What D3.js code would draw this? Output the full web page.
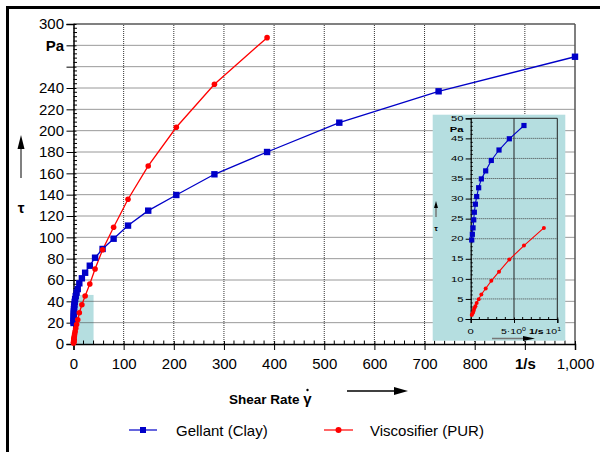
<!DOCTYPE html>
<html><head><meta charset="utf-8">
<script src="https://cdn.jsdelivr.net/npm/d3@7"></script>
<style>body{margin:0;background:#fff;} svg{display:block;font-family:"Liberation Sans",Arial,sans-serif;}</style>
</head><body>
<svg id="c" width="600" height="452"></svg>
<script>
// ---- data ----
const shear = [1000, 728, 530, 386, 281, 205, 149, 108.7, 80, 58, 43, 32.5, 23.2, 16.7, 11.6,
  8.45, 6.15, 4.46, 3.27, 2.38, 1.73, 1.23, 0.92, 0.69, 0.54, 0.42, 0.35, 0.27, 0.19, 0.12];
const gellant = [269.3, 236.9, 207.5, 180, 159.1, 139.7, 125, 111, 98.7, 89.1, 80.9, 73.4, 66.8, 61.6, 56.9,
  51.5, 48.2, 44.9, 42.1, 39.5, 36.9, 34.9, 32.7, 30.5, 28.6, 26.6, 24.7, 22.7, 21.1, 19.7];
const viscShear = shear.slice(3);
const viscosifier = [287.2, 243.5, 203.2, 166.9, 135.7, 109.4, 88.4, 70.3, 56.2, 45, 36.8, 29.3,
  22.7, 18.3, 14.8, 11.8, 9.5, 7.6, 6.1, 4.9, 4.0, 3.2, 2.7, 2.1, 1.6, 1.3, 1.0];
const seriesNames = ["Gellant (Clay)", "Viscosifier (PUR)"];
const xTicks = [0,100,200,300,400,500,600,700,800,900,1000];
const yTicks = [0,20,40,60,80,100,120,140,160,180,200,220,240,260,280,300];
const insetXTicks = [0,5,10];
const insetYTicks = [0,5,10,15,20,25,30,35,40,45,50];
const zoomBox = [40, 46]; // shaded zoom region in main chart (x, y extent)

const BLUE = "#0000c8", RED = "#ff0000", TEAL = "#b5dee0";
const svg = d3.select("#c");

// outer frame
svg.append("rect").attr("x",7.5).attr("y",7.5).attr("width",800).attr("height",800)
  .attr("fill","none").attr("stroke","#000").attr("stroke-width",3);

const x = d3.scaleLinear([0,1000],[73.5,575]);
const y = d3.scaleLinear([0,300],[344,24]);

// shaded zoom region
svg.append("rect").attr("x",x(0)).attr("y",y(zoomBox[1])).attr("width",x(zoomBox[0])-x(0))
  .attr("height",y(0)-y(zoomBox[1])).attr("fill",TEAL);

// grid
const grid = svg.append("g");
grid.selectAll(".gx").data(xTicks.filter(d=>d>0&&d<1000)).join("line")
  .attr("x1",d=>x(d)).attr("x2",d=>x(d)).attr("y1",y(0)).attr("y2",y(300))
  .attr("stroke","#333").attr("stroke-dasharray","1,1");
grid.selectAll(".gy").data(yTicks.filter(d=>d>0&&d<300)).join("line")
  .attr("x1",x(0)).attr("x2",x(1000)).attr("y1",d=>y(d)).attr("y2",d=>y(d))
  .attr("stroke","#333").attr("stroke-dasharray","1,1");
svg.append("line").attr("x1",x(0)).attr("x2",x(1000)).attr("y1",y(300)).attr("y2",y(300))
  .attr("stroke","#808080").attr("stroke-width",2);
svg.append("line").attr("x1",x(1000)).attr("x2",x(1000)).attr("y1",y(300)).attr("y2",y(0))
  .attr("stroke","#555").attr("stroke-width",1.5);

// minor ticks
svg.append("g").selectAll("line").data(d3.range(0,301,4).filter(d=>d%20)).join("line")
  .attr("x1",x(0)).attr("x2",x(0)+3.5).attr("y1",d=>y(d)).attr("y2",d=>y(d)).attr("stroke","#000");
svg.append("g").selectAll("line").data(d3.range(0,1001,20).filter(d=>d%100)).join("line")
  .attr("y1",y(0)).attr("y2",y(0)-3.5).attr("x1",d=>x(d)).attr("x2",d=>x(d)).attr("stroke","#000");

// axes
const yAxis = svg.append("g").attr("transform",`translate(${x(0)},0)`)
  .call(d3.axisLeft(y).tickValues(yTicks).tickSize(7).tickPadding(2.5)
    .tickFormat(d=> d===280 ? "Pa" : d===260 ? "" : d));
yAxis.select(".domain").attr("stroke-width",1.5);
yAxis.selectAll(".tick line").attr("x1",3);
yAxis.selectAll("text").attr("font-size",15).attr("font-family","Liberation Sans, Arial")
  .attr("font-weight",d=>d===280?"bold":null);

const xAxis = svg.append("g").attr("transform",`translate(0,${y(0)})`)
  .call(d3.axisBottom(x).tickValues(xTicks).tickSize(6).tickPadding(8)
    .tickFormat(d=> d===900 ? "1/s" : d3.format(",")(d)));
xAxis.select(".domain").attr("stroke-width",1.5);
xAxis.selectAll(".tick line").attr("y1",-3);
xAxis.selectAll("text").attr("font-size",15).attr("font-family","Liberation Sans, Arial")
  .attr("font-weight",d=>d===900?"bold":null);

// series main
const bluePts = shear.map((s,i)=>[s,gellant[i]]);
const redPts = viscShear.map((s,i)=>[s,viscosifier[i]]);
const line = d3.line().x(d=>x(d[0])).y(d=>y(d[1]));
svg.append("path").attr("d",line(bluePts)).attr("fill","none").attr("stroke",BLUE).attr("stroke-width",1.3);
svg.append("path").attr("d",line(redPts)).attr("fill","none").attr("stroke",RED).attr("stroke-width",1.3);
svg.append("g").selectAll("rect").data(bluePts).join("rect")
  .attr("x",d=>x(d[0])-3.2).attr("y",d=>y(d[1])-3.2).attr("width",6.4).attr("height",6.4).attr("fill",BLUE);
svg.append("g").selectAll("circle").data(redPts).join("circle")
  .attr("cx",d=>x(d[0])).attr("cy",d=>y(d[1])).attr("r",2.8).attr("fill",RED);

// axis titles
const ya = svg.append("g");
ya.append("line").attr("x1",21).attr("x2",21).attr("y1",178).attr("y2",146).attr("stroke","#808080").attr("stroke-width",2);
ya.append("path").attr("d","M21,135 L17.5,149 L24.5,149 Z").attr("fill","#000");
ya.append("text").attr("x",21).attr("y",213).attr("text-anchor","middle").attr("font-size",15)
  .attr("font-weight","bold").text("τ");

svg.append("text").attr("x",229).attr("y",404).attr("font-size",13.5).attr("font-weight","bold")
  .text("Shear Rate");
svg.append("text").attr("x",307.5).attr("y",404).attr("text-anchor","middle").attr("font-size",15)
  .attr("font-weight","bold").text("γ");
svg.append("circle").attr("cx",307.5).attr("cy",390).attr("r",1.2).attr("fill","#000");
svg.append("line").attr("x1",347).attr("x2",396).attr("y1",391).attr("y2",391).attr("stroke","#000").attr("stroke-width",1.5);
svg.append("path").attr("d","M408,391 L394,387 L394,395 Z").attr("fill","#000");

// legend
const lg = svg.append("g");
lg.append("line").attr("x1",129).attr("x2",157).attr("y1",430).attr("y2",430).attr("stroke",BLUE).attr("stroke-width",1.5).attr("opacity",0.8);
lg.append("rect").attr("x",140).attr("y",427).attr("width",6).attr("height",6).attr("fill",BLUE);
lg.append("text").attr("x",176).attr("y",435.5).attr("font-size",15).text(seriesNames[0]);
lg.append("line").attr("x1",324).attr("x2",353).attr("y1",430).attr("y2",430).attr("stroke",RED).attr("stroke-width",1.5).attr("opacity",0.8);
lg.append("circle").attr("cx",338.5).attr("cy",430).attr("r",3).attr("fill",RED);
lg.append("text").attr("x",370).attr("y",435.5).attr("font-size",15).text(seriesNames[1]);

// ---- inset ----
const ins = svg.append("g");
ins.append("rect").attr("x",432.7).attr("y",114.7).attr("width",132.6).attr("height",226).attr("fill",TEAL);
const xi = d3.scaleLinear([0,10],[470.7,557.3]);
const yi = d3.scaleLinear([0,50],[319,118.3]);
ins.selectAll(".igy").data(insetYTicks.filter(d=>d>0&&d<50)).join("line")
  .attr("x1",xi(0)).attr("x2",xi(10)).attr("y1",d=>yi(d)).attr("y2",d=>yi(d))
  .attr("stroke","#444").attr("stroke-dasharray","1,1");
ins.append("line").attr("x1",xi(5)).attr("x2",xi(5)).attr("y1",yi(0)).attr("y2",yi(50)).attr("stroke","#222");
ins.append("line").attr("x1",xi(0)).attr("x2",xi(10)).attr("y1",yi(50)).attr("y2",yi(50)).attr("stroke","#222");
ins.append("line").attr("x1",xi(10)).attr("x2",xi(10)).attr("y1",yi(0)).attr("y2",yi(50)).attr("stroke","#222");
// minor ticks inset
ins.append("g").selectAll("line").data(d3.range(0,11,1).filter(d=>d%5)).join("line")
  .attr("x1",d=>xi(d)).attr("x2",d=>xi(d)).attr("y1",yi(0)).attr("y2",yi(0)-2).attr("stroke","#000");
ins.append("g").selectAll("line").data(d3.range(0,51,1).filter(d=>d%5)).join("line")
  .attr("y1",d=>yi(d)).attr("y2",d=>yi(d)).attr("x1",xi(0)).attr("x2",xi(0)+2).attr("stroke","#000");
const iyA = ins.append("g").attr("transform",`translate(${xi(0)},0)`)
  .call(d3.axisLeft(yi).tickValues(insetYTicks).tickSize(5).tickPadding(0).tickFormat(""));
iyA.selectAll(".tick line").attr("x1",1);
const ixA = ins.append("g").attr("transform",`translate(0,${yi(0)})`)
  .call(d3.axisBottom(xi).tickValues(insetXTicks).tickSize(4).tickPadding(0).tickFormat(""));
ixA.selectAll(".tick line").attr("y1",-1.5);
ins.selectAll(".domain").attr("stroke-width",1.2);
// inset labels (wide, short glyphs)
function wideText(g, px, py, txt, anchor, bold){
  return g.append("text").attr("transform",`translate(${px},${py}) scale(1.5,1)`)
    .attr("text-anchor",anchor).attr("font-size",7.5).attr("font-weight",bold?"bold":null).text(txt);
}
insetYTicks.forEach(d=>wideText(ins, 463.5, yi(d)+2.7, d, "end", false));
wideText(ins, 463.5, 132.2, "Pa", "end", true);
wideText(ins, xi(0), 333.5, "0", "middle", false);
const t5 = ins.append("text").attr("transform","translate(501,333.5) scale(1.4,1)").attr("font-size",7.5);
t5.append("tspan").text("5·10");
t5.append("tspan").attr("dy",-3).attr("font-size",5).text("0");
ins.append("text").attr("transform","translate(529,333.5) scale(1.4,1)").attr("font-size",7.5)
  .attr("font-weight","bold").text("1/s");
const t10 = ins.append("text").attr("transform","translate(545.5,333.5) scale(1.4,1)").attr("font-size",7.5);
t10.append("tspan").text("10");
t10.append("tspan").attr("dy",-3).attr("font-size",5).text("1");
// inset arrows
ins.append("line").attr("x1",492).attr("x2",524).attr("y1",338.5).attr("y2",338.5).attr("stroke","#777").attr("stroke-width",1.5);
ins.append("path").attr("d","M535,338.5 L523,336 L523,341 Z").attr("fill","#000");
ins.append("line").attr("x1",436).attr("x2",436).attr("y1",217).attr("y2",206).attr("stroke","#777").attr("stroke-width",1.5);
ins.append("path").attr("d","M436,201 L434,208 L438,208 Z").attr("fill","#000");
ins.append("text").attr("x",436).attr("y",230.5).attr("text-anchor","middle").attr("font-size",8).attr("font-weight","bold").text("τ");
// inset series
const inX = d=>d[0]<=10 && d[1]<=50;
const li = d3.line().x(d=>xi(d[0])).y(d=>yi(d[1]));
const bI = bluePts.filter(inX), rI = redPts.filter(inX);
ins.append("path").attr("d",li(bI)).attr("fill","none").attr("stroke",BLUE).attr("stroke-width",1.1);
ins.append("path").attr("d",li(rI)).attr("fill","none").attr("stroke",RED).attr("stroke-width",1.1);
ins.append("g").selectAll("rect").data(bI).join("rect")
  .attr("x",d=>xi(d[0])-2.6).attr("y",d=>yi(d[1])-2.6).attr("width",5.2).attr("height",5.2).attr("fill",BLUE);
ins.append("g").selectAll("circle").data(rI).join("circle")
  .attr("cx",d=>xi(d[0])).attr("cy",d=>yi(d[1])).attr("r",2).attr("fill",RED);
</script>
</body></html>
